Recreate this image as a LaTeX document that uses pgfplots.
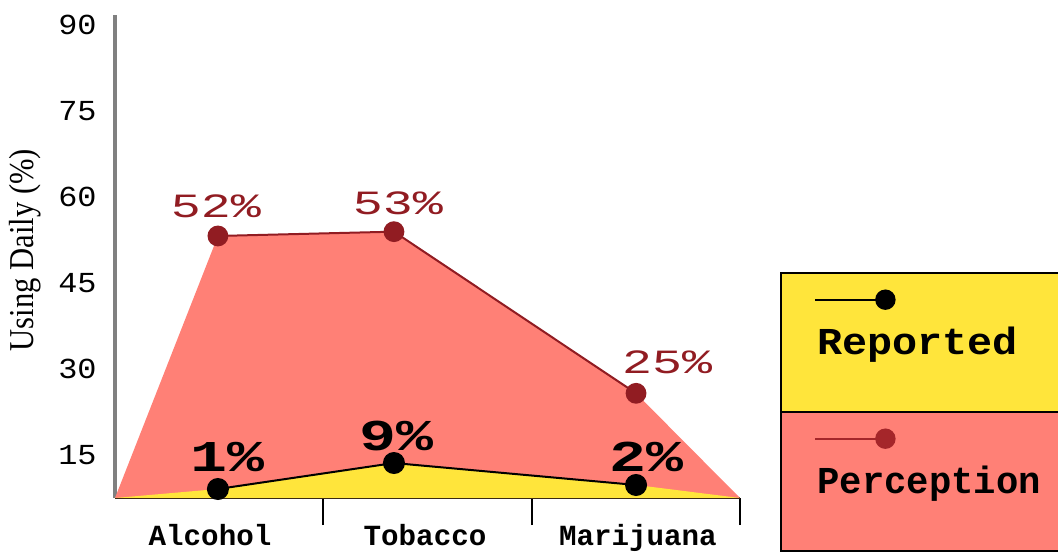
\documentclass[border=0pt]{standalone}
\usepackage{fontspec}
\usepackage{pgfplots}
\usepackage{pgfplotstable}
\pgfplotsset{compat=1.18}
\setmainfont{Liberation Mono}
\newfontfamily\serif{Liberation Serif}
\definecolor{salmon}{RGB}{255,128,118}
\definecolor{yel}{RGB}{255,229,59}
\definecolor{dred}{RGB}{145,28,34}
\definecolor{lred}{RGB}{165,38,42}
\definecolor{axgray}{RGB}{128,128,128}

\pgfplotstableread{
x y lab dx dy
0.494 53.18 52\% -1 9
1.339 53.93 53\% 2 8.35
2.501 25.75 25\% 15.5 10
}\perc
\pgfplotstableread{
x y lab dx dy
0.494 9.07 1\% 5 9
1.339 13.6 9\% 1.5 6.5
2.501 9.77 2\% 5 6.7
}\rep

\begin{document}
\begin{tikzpicture}
% legend cell backgrounds
\fill[yel] (333pt,43.15pt) rectangle (560pt,112.65pt);
\fill[salmon] (333pt,-26.35pt) rectangle (560pt,43.15pt);
\draw[black, line width=1pt] (560pt,112.65pt) -- (333pt,112.65pt) -- (333pt,-26.35pt) -- (560pt,-26.35pt);
\draw[black, line width=1pt] (333pt,43.15pt) -- (560pt,43.15pt);
\begin{axis}[
  at={(0,0)}, anchor=south west,
  scale only axis, width=312.5pt, height=241.5pt,
  xmin=0, xmax=3, ymin=7.5, ymax=91.7,
  axis x line*=bottom, axis y line*=left,
  axis line style={-},
  x axis line style={black, line width=0.8pt},
  y axis line style={axgray, line width=2pt},
  tick align=outside,
  major tick length=13.5pt,
  xtick={1,2,3}, xticklabels={},
  xtick style={black, line width=1pt},
  extra x ticks={0.456,1.488,2.510},
  extra x tick labels={Alcohol,Tobacco,Marijuana},
  extra x tick style={major tick length=0pt, xtick style={draw=none},
     xticklabel style={anchor=base, inner sep=0pt, yshift=-23.5pt,
       font=\bfseries\fontsize{14.6}{14.6}\selectfont}},
  ytick={15,30,45,60,75,90},
  ytick style={draw=none},
  yticklabel={\scalebox{1.1}[1]{\pgfmathprintnumber[assume math mode=true]{\tick}}},
  yticklabel style={anchor=east, inner sep=0pt, xshift=4.5pt,
     font=\fontsize{14.5}{14.5}\selectfont},
  ylabel={\scalebox{1}[1.14]{Using Daily (\%)}},
  ylabel style={at={(axis description cs:-0.144,0.5135)}, anchor=center,
     font=\serif\fontsize{15.3}{15.3}\selectfont},
  legend style={at={(axis description cs:1.1232,0.3458)}, anchor=north west,
     draw=none, fill=none, inner sep=0pt, row sep=58pt, column sep=0pt,
     nodes={inner sep=0pt, text height=11.5pt, text depth=0pt,
       font=\bfseries\fontsize{19}{19}\selectfont}},
  legend cell align=left,
  legend image code/.code={
     \draw[overlay,#1] (-1pt,21.6pt) -- (34pt,21.6pt);
     \fill[overlay,#1] (34pt,21.6pt) circle (4.6pt);},
]
% Perception area
\addplot[fill=salmon, draw=none, forget plot] coordinates {
 (0,7.5) (0.494,53.18) (1.339,53.93) (2.501,25.75) (3,7.5)} \closedcycle;
\addplot[dred, line width=1pt, mark=*, mark size=4.7pt,
  mark options={fill=dred, draw=dred},
  forget plot,
  point meta=explicit symbolic,
  visualization depends on={\thisrow{dx} \as \dx},
  visualization depends on={\thisrow{dy} \as \dy},
  nodes near coords={\scalebox{1.47}[1]{\pgfplotspointmeta}},
  nodes near coords style={anchor=base, inner sep=0pt, xshift=\dx pt, yshift=\dy pt,
     text=dred, font=\fontsize{17}{17}\selectfont},
] table[x=x, y=y, meta=lab] {\perc};
% Reported area
\addplot[fill=yel, draw=none, forget plot] coordinates {
 (0,7.5) (0.494,9.07) (1.339,13.6) (2.501,9.77) (3,7.5)} \closedcycle;
\addplot[black, line width=1pt, mark=*, mark size=5pt,
  mark options={fill=black, draw=black},
  forget plot,
  point meta=explicit symbolic,
  visualization depends on={\thisrow{dx} \as \dx},
  visualization depends on={\thisrow{dy} \as \dy},
  nodes near coords={\scalebox{1.4}[1]{\pgfplotspointmeta}},
  nodes near coords style={anchor=base, inner sep=0pt, xshift=\dx pt, yshift=\dy pt,
     text=black, font=\bfseries\fontsize{22}{22}\selectfont},
] table[x=x, y=y, meta=lab] {\rep};
\addlegendimage{black, line width=1pt}
\addlegendentry{\scalebox{1.1}[1]{Reported}}
\addlegendimage{lred, line width=1pt}
\addlegendentry{\scalebox{0.98}[1]{Perception}}
\end{axis}
\pgfresetboundingbox
\path (-57.5pt,-28pt) rectangle (471.5pt,249pt);
\end{tikzpicture}
\end{document}
